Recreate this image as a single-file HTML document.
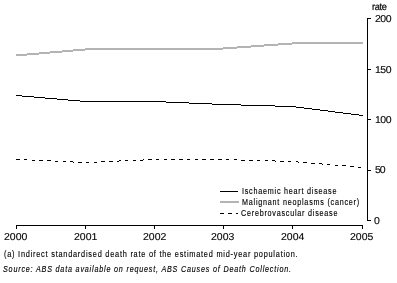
<!DOCTYPE html>
<html><head><meta charset="utf-8"><style>
html,body{margin:0;padding:0;background:#fff;width:397px;height:283px;overflow:hidden}
svg{display:block;will-change:transform}
text{font-family:"Liberation Sans", sans-serif;fill:#000;stroke:#000;stroke-width:0;text-rendering:geometricPrecision}
</style></head><body>
<svg width="397" height="283" viewBox="0 0 397 283">
<g fill="#000">
<rect x="16" y="225" width="347" height="1"/>
<rect x="367" y="18" width="1" height="203"/>
<rect x="16" y="225" width="1" height="4"/>
<rect x="85" y="225" width="1" height="4"/>
<rect x="154" y="225" width="1" height="4"/>
<rect x="223" y="225" width="1" height="4"/>
<rect x="292" y="225" width="1" height="4"/>
<rect x="362" y="225" width="1" height="4"/>
<rect x="367" y="18" width="4" height="1"/>
<rect x="367" y="69" width="4" height="1"/>
<rect x="367" y="119" width="4" height="1"/>
<rect x="367" y="170" width="4" height="1"/>
<rect x="367" y="220" width="4" height="1"/>
</g>
<g shape-rendering="crispEdges">
<rect x="16" y="54" width="11" height="2" fill="#b4b4b4"/>
<rect x="27" y="53" width="12" height="2" fill="#b4b4b4"/>
<rect x="39" y="52" width="11" height="2" fill="#b4b4b4"/>
<rect x="50" y="51" width="12" height="2" fill="#b4b4b4"/>
<rect x="62" y="50" width="11" height="2" fill="#b4b4b4"/>
<rect x="73" y="49" width="12" height="2" fill="#b4b4b4"/>
<rect x="85" y="48" width="138" height="2" fill="#b4b4b4"/>
<rect x="223" y="47" width="14" height="2" fill="#b4b4b4"/>
<rect x="237" y="46" width="14" height="2" fill="#b4b4b4"/>
<rect x="251" y="45" width="13" height="2" fill="#b4b4b4"/>
<rect x="264" y="44" width="14" height="2" fill="#b4b4b4"/>
<rect x="278" y="43" width="14" height="2" fill="#b4b4b4"/>
<rect x="292" y="42" width="71" height="2" fill="#b4b4b4"/>
<rect x="16" y="95" width="6" height="1" fill="#000"/>
<rect x="22" y="96" width="12" height="1" fill="#000"/>
<rect x="34" y="97" width="11" height="1" fill="#000"/>
<rect x="45" y="98" width="12" height="1" fill="#000"/>
<rect x="57" y="99" width="11" height="1" fill="#000"/>
<rect x="68" y="100" width="12" height="1" fill="#000"/>
<rect x="80" y="101" width="86" height="1" fill="#000"/>
<rect x="166" y="102" width="23" height="1" fill="#000"/>
<rect x="189" y="103" width="23" height="1" fill="#000"/>
<rect x="212" y="104" width="29" height="1" fill="#000"/>
<rect x="241" y="105" width="34" height="1" fill="#000"/>
<rect x="275" y="106" width="21" height="1" fill="#000"/>
<rect x="296" y="107" width="8" height="1" fill="#000"/>
<rect x="304" y="108" width="8" height="1" fill="#000"/>
<rect x="312" y="109" width="8" height="1" fill="#000"/>
<rect x="320" y="110" width="8" height="1" fill="#000"/>
<rect x="328" y="111" width="7" height="1" fill="#000"/>
<rect x="335" y="112" width="8" height="1" fill="#000"/>
<rect x="343" y="113" width="8" height="1" fill="#000"/>
<rect x="351" y="114" width="8" height="1" fill="#000"/>
<rect x="359" y="115" width="4" height="1" fill="#000"/>
<g fill="#000"><rect x="16" y="159" width="1" height="1"/><rect x="17" y="159" width="1" height="1"/><rect x="18" y="159" width="1" height="1"/><rect x="19" y="159" width="1" height="1"/><rect x="24" y="159" width="1" height="1"/><rect x="25" y="159" width="1" height="1"/><rect x="26" y="159" width="1" height="1"/><rect x="32" y="160" width="1" height="1"/><rect x="33" y="160" width="1" height="1"/><rect x="34" y="160" width="1" height="1"/><rect x="39" y="160" width="1" height="1"/><rect x="40" y="160" width="1" height="1"/><rect x="41" y="160" width="1" height="1"/><rect x="42" y="160" width="1" height="1"/><rect x="47" y="160" width="1" height="1"/><rect x="48" y="160" width="1" height="1"/><rect x="49" y="160" width="1" height="1"/><rect x="50" y="160" width="1" height="1"/><rect x="55" y="161" width="1" height="1"/><rect x="56" y="161" width="1" height="1"/><rect x="57" y="161" width="1" height="1"/><rect x="63" y="161" width="1" height="1"/><rect x="64" y="161" width="1" height="1"/><rect x="65" y="161" width="1" height="1"/><rect x="70" y="161" width="1" height="1"/><rect x="71" y="161" width="1" height="1"/><rect x="72" y="161" width="1" height="1"/><rect x="73" y="162" width="1" height="1"/><rect x="78" y="162" width="1" height="1"/><rect x="79" y="162" width="1" height="1"/><rect x="80" y="162" width="1" height="1"/><rect x="81" y="162" width="1" height="1"/><rect x="86" y="162" width="1" height="1"/><rect x="87" y="162" width="1" height="1"/><rect x="88" y="162" width="1" height="1"/><rect x="94" y="162" width="1" height="1"/><rect x="95" y="162" width="1" height="1"/><rect x="96" y="162" width="1" height="1"/><rect x="101" y="161" width="1" height="1"/><rect x="102" y="161" width="1" height="1"/><rect x="103" y="161" width="1" height="1"/><rect x="104" y="161" width="1" height="1"/><rect x="109" y="161" width="1" height="1"/><rect x="110" y="161" width="1" height="1"/><rect x="111" y="161" width="1" height="1"/><rect x="112" y="161" width="1" height="1"/><rect x="117" y="161" width="1" height="1"/><rect x="118" y="161" width="1" height="1"/><rect x="119" y="160" width="1" height="1"/><rect x="120" y="160" width="1" height="1"/><rect x="125" y="160" width="1" height="1"/><rect x="126" y="160" width="1" height="1"/><rect x="127" y="160" width="1" height="1"/><rect x="133" y="160" width="1" height="1"/><rect x="134" y="160" width="1" height="1"/><rect x="135" y="160" width="1" height="1"/><rect x="140" y="160" width="1" height="1"/><rect x="141" y="160" width="1" height="1"/><rect x="142" y="160" width="1" height="1"/><rect x="143" y="159" width="1" height="1"/><rect x="148" y="159" width="1" height="1"/><rect x="149" y="159" width="1" height="1"/><rect x="150" y="159" width="1" height="1"/><rect x="151" y="159" width="1" height="1"/><rect x="156" y="159" width="1" height="1"/><rect x="157" y="159" width="1" height="1"/><rect x="158" y="159" width="1" height="1"/><rect x="164" y="159" width="1" height="1"/><rect x="165" y="159" width="1" height="1"/><rect x="166" y="159" width="1" height="1"/><rect x="171" y="159" width="1" height="1"/><rect x="172" y="159" width="1" height="1"/><rect x="173" y="159" width="1" height="1"/><rect x="174" y="159" width="1" height="1"/><rect x="179" y="159" width="1" height="1"/><rect x="180" y="159" width="1" height="1"/><rect x="181" y="159" width="1" height="1"/><rect x="182" y="159" width="1" height="1"/><rect x="187" y="159" width="1" height="1"/><rect x="188" y="159" width="1" height="1"/><rect x="189" y="159" width="1" height="1"/><rect x="195" y="159" width="1" height="1"/><rect x="196" y="159" width="1" height="1"/><rect x="197" y="159" width="1" height="1"/><rect x="202" y="159" width="1" height="1"/><rect x="203" y="159" width="1" height="1"/><rect x="204" y="159" width="1" height="1"/><rect x="205" y="159" width="1" height="1"/><rect x="210" y="159" width="1" height="1"/><rect x="211" y="159" width="1" height="1"/><rect x="212" y="159" width="1" height="1"/><rect x="213" y="159" width="1" height="1"/><rect x="218" y="159" width="1" height="1"/><rect x="219" y="159" width="1" height="1"/><rect x="220" y="159" width="1" height="1"/><rect x="221" y="159" width="1" height="1"/><rect x="226" y="159" width="1" height="1"/><rect x="227" y="159" width="1" height="1"/><rect x="228" y="159" width="1" height="1"/><rect x="234" y="159" width="1" height="1"/><rect x="235" y="159" width="1" height="1"/><rect x="236" y="159" width="1" height="1"/><rect x="241" y="160" width="1" height="1"/><rect x="242" y="160" width="1" height="1"/><rect x="243" y="160" width="1" height="1"/><rect x="244" y="160" width="1" height="1"/><rect x="249" y="160" width="1" height="1"/><rect x="250" y="160" width="1" height="1"/><rect x="251" y="160" width="1" height="1"/><rect x="252" y="160" width="1" height="1"/><rect x="257" y="160" width="1" height="1"/><rect x="258" y="160" width="1" height="1"/><rect x="259" y="160" width="1" height="1"/><rect x="265" y="160" width="1" height="1"/><rect x="266" y="160" width="1" height="1"/><rect x="267" y="160" width="1" height="1"/><rect x="272" y="160" width="1" height="1"/><rect x="273" y="160" width="1" height="1"/><rect x="274" y="160" width="1" height="1"/><rect x="275" y="161" width="1" height="1"/><rect x="280" y="161" width="1" height="1"/><rect x="281" y="161" width="1" height="1"/><rect x="282" y="161" width="1" height="1"/><rect x="283" y="161" width="1" height="1"/><rect x="288" y="161" width="1" height="1"/><rect x="289" y="161" width="1" height="1"/><rect x="290" y="161" width="1" height="1"/><rect x="296" y="161" width="1" height="1"/><rect x="297" y="161" width="1" height="1"/><rect x="298" y="162" width="1" height="1"/><rect x="303" y="162" width="1" height="1"/><rect x="304" y="162" width="1" height="1"/><rect x="305" y="162" width="1" height="1"/><rect x="306" y="162" width="1" height="1"/><rect x="311" y="163" width="1" height="1"/><rect x="312" y="163" width="1" height="1"/><rect x="313" y="163" width="1" height="1"/><rect x="314" y="163" width="1" height="1"/><rect x="319" y="163" width="1" height="1"/><rect x="320" y="163" width="1" height="1"/><rect x="321" y="163" width="1" height="1"/><rect x="322" y="164" width="1" height="1"/><rect x="327" y="164" width="1" height="1"/><rect x="328" y="164" width="1" height="1"/><rect x="329" y="164" width="1" height="1"/><rect x="335" y="165" width="1" height="1"/><rect x="336" y="165" width="1" height="1"/><rect x="337" y="165" width="1" height="1"/><rect x="342" y="165" width="1" height="1"/><rect x="343" y="165" width="1" height="1"/><rect x="344" y="165" width="1" height="1"/><rect x="345" y="165" width="1" height="1"/><rect x="350" y="166" width="1" height="1"/><rect x="351" y="166" width="1" height="1"/><rect x="352" y="166" width="1" height="1"/><rect x="353" y="166" width="1" height="1"/><rect x="358" y="167" width="1" height="1"/><rect x="359" y="167" width="1" height="1"/><rect x="360" y="167" width="1" height="1"/></g>
<rect x="220" y="191" width="18" height="1" fill="#000"/>
<rect x="220" y="201" width="19" height="2" fill="#b4b4b4"/>
<rect x="220" y="213" width="4" height="1" fill="#000"/>
<rect x="228" y="213" width="4" height="1" fill="#000"/>
<rect x="236" y="213" width="2" height="1" fill="#000"/>
</g>
<text transform="translate(242,194) scale(0.8,1)" font-size="9.0" textLength="118.02" lengthAdjust="spacing" style="stroke-width:0.15px;text-rendering:optimizeLegibility">Ischaemic heart disease</text>
<text transform="translate(242,205) scale(0.8,1)" font-size="9.0" textLength="146.45" lengthAdjust="spacing" style="stroke-width:0.15px;text-rendering:optimizeLegibility">Malignant neoplasms (cancer)</text>
<text transform="translate(241,216) scale(0.8,1)" font-size="9.0" textLength="120.5" lengthAdjust="spacing" style="stroke-width:0.15px;text-rendering:optimizeLegibility">Cerebrovascular disease</text>
<text transform="translate(4,257) scale(0.8,1)" font-size="9.2" textLength="367.03" lengthAdjust="spacing" style="stroke-width:0.15px;text-rendering:optimizeLegibility">(a) Indirect standardised death rate of the estimated mid-year population.</text>
<text transform="translate(3,272) scale(0.8,1)" font-size="9.0" font-style="italic" textLength="360.12" lengthAdjust="spacing" style="stroke-width:0.15px;text-rendering:optimizeLegibility">Source: ABS data available on request, ABS Causes of Death Collection.</text>
<text transform="translate(372,10) scale(0.92,1)" font-size="10.0" textLength="16.15" lengthAdjust="spacing" style="stroke-width:0.2px;text-rendering:geometricPrecision">rate</text>
<text transform="translate(375,22) scale(1.05,1)" font-size="10.0" textLength="15.74" lengthAdjust="spacing" style="stroke-width:0.12px;text-rendering:geometricPrecision">200</text>
<text transform="translate(375,73) scale(1.05,1)" font-size="10.0" textLength="15.74" lengthAdjust="spacing" style="stroke-width:0.12px;text-rendering:geometricPrecision">150</text>
<text transform="translate(375,123) scale(1.05,1)" font-size="10.0" textLength="15.74" lengthAdjust="spacing" style="stroke-width:0.12px;text-rendering:geometricPrecision">100</text>
<text transform="translate(375,173) scale(1.05,1)" font-size="10.0" textLength="10.17" lengthAdjust="spacing" style="stroke-width:0.12px;text-rendering:geometricPrecision">50</text>
<text transform="translate(374,224) scale(1.05,1)" font-size="10.0" textLength="5.56" lengthAdjust="spacing" style="stroke-width:0.12px;text-rendering:geometricPrecision">0</text>
<text transform="translate(4,240) scale(1.05,1)" font-size="10.0" textLength="22.25" lengthAdjust="spacing" style="stroke-width:0.12px;text-rendering:geometricPrecision">2000</text>
<text transform="translate(74,240) scale(1.05,1)" font-size="10.0" textLength="22.25" lengthAdjust="spacing" style="stroke-width:0.12px;text-rendering:geometricPrecision">2001</text>
<text transform="translate(143,240) scale(1.05,1)" font-size="10.0" textLength="22.25" lengthAdjust="spacing" style="stroke-width:0.12px;text-rendering:geometricPrecision">2002</text>
<text transform="translate(211,240) scale(1.05,1)" font-size="10.0" textLength="22.25" lengthAdjust="spacing" style="stroke-width:0.12px;text-rendering:geometricPrecision">2003</text>
<text transform="translate(281,240) scale(1.05,1)" font-size="10.0" textLength="22.25" lengthAdjust="spacing" style="stroke-width:0.12px;text-rendering:geometricPrecision">2004</text>
<text transform="translate(350,240) scale(1.05,1)" font-size="10.0" textLength="22.25" lengthAdjust="spacing" style="stroke-width:0.12px;text-rendering:geometricPrecision">2005</text>
</svg>
</body></html>
